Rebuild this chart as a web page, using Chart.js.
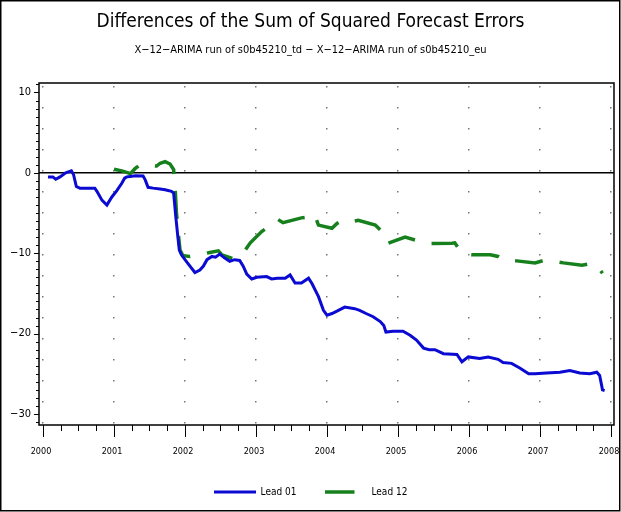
<!DOCTYPE html>
<html>
<head>
<meta charset="utf-8">
<script src="https://cdn.jsdelivr.net/npm/chart.js@4.4.0/dist/chart.umd.min.js"></script>
<style>
  html, body { margin: 0; padding: 0; background: #fff; }
  #wrap { width: 621px; height: 512px; }
</style>
</head>
<body>
<div id="wrap"><canvas id="c" width="621" height="512"></canvas></div>
<script>
// ---- data ----
const titleText = "Differences of the Sum of Squared Forecast Errors";
const subtitleText = "X\u221212\u2212ARIMA run of s0b45210_td \u2212 X\u221212\u2212ARIMA run of s0b45210_eu";
const seriesNames = ["Lead 01", "Lead 12"];
const xTickYears = [2000, 2001, 2002, 2003, 2004, 2005, 2006, 2007, 2008];
const yTickValues = [-30, -20, -10, 0, 10];

const lead01X = [2000.07,2000.14,2000.18,2000.24,2000.32,2000.40,2000.43,2000.47,2000.52,2000.63,2000.73,2000.76,2000.83,2000.90,2000.97,
  2001.04,2001.11,2001.15,2001.18,2001.23,2001.30,2001.41,2001.44,2001.48,2001.55,2001.65,2001.72,2001.81,2001.84,2001.87,2001.90,2001.92,2001.95,
  2002.00,2002.07,2002.14,2002.21,2002.26,2002.31,2002.38,2002.43,2002.49,2002.56,2002.63,2002.70,2002.77,2002.82,2002.87,2002.94,
  2003.01,2003.15,2003.22,2003.30,2003.41,2003.48,2003.55,2003.64,2003.74,2003.79,2003.88,2003.95,
  2004.00,2004.07,2004.14,2004.25,2004.39,2004.46,2004.55,2004.65,2004.75,2004.80,2004.83,2004.93,
  2005.07,2005.17,2005.26,2005.36,2005.44,2005.52,2005.64,2005.83,2005.90,2005.99,
  2006.15,2006.27,2006.41,2006.48,2006.60,2006.72,2006.84,2006.93,
  2007.09,2007.28,2007.42,2007.56,2007.70,2007.80,2007.84,2007.88,2007.91];
const lead01Y = [-0.5,-0.5,-0.8,-0.5,0.0,0.25,-0.2,-1.7,-1.9,-1.9,-1.9,-2.3,-3.4,-4.0,-3.0,
  -2.2,-1.3,-0.66,-0.5,-0.45,-0.37,-0.4,-0.87,-1.8,-1.9,-2.0,-2.1,-2.3,-2.5,-5.4,-8.0,-9.6,-10.2,
  -10.8,-11.6,-12.4,-12.1,-11.6,-10.8,-10.4,-10.5,-10.1,-10.6,-11.0,-10.8,-10.9,-11.6,-12.6,-13.2,
  -13.0,-12.9,-13.2,-13.1,-13.1,-12.7,-13.7,-13.7,-13.1,-13.8,-15.4,-17.1,
  -17.7,-17.5,-17.2,-16.7,-16.9,-17.1,-17.5,-17.9,-18.5,-19.0,-19.8,-19.7,
  -19.7,-20.2,-20.8,-21.8,-22.0,-22.0,-22.5,-22.6,-23.5,-22.9,
  -23.1,-22.9,-23.2,-23.6,-23.7,-24.3,-25.0,-25.0,
  -24.9,-24.8,-24.6,-24.9,-25.0,-24.8,-25.2,-27.0,-27.1];

const lead12X = [2001.00,2001.11,2001.20,2001.23,2001.30,2001.37,2001.60,2001.65,2001.72,2001.79,2001.84,2001.86,2001.88,2001.91,2001.93,2001.97,
  2002.07,2002.21,2002.35,2002.47,2002.52,2002.68,2002.77,2002.85,2002.92,
  2003.08,2003.16,2003.24,2003.31,2003.38,2003.64,2003.72,2003.82,2003.88,
  2004.07,2004.14,2004.23,2004.32,2004.44,2004.68,2004.75,2004.82,2004.85,
  2005.10,2005.26,2005.31,2005.47,2005.76,2005.80,2005.87,2005.94,
  2006.04,2006.30,2006.41,2006.48,2006.67,2006.93,
  2007.05,2007.20,2007.33,2007.59,2007.73,2007.80,2007.88];
const lead12Y = [0.45,0.25,0.0,-0.1,0.55,1.0,0.85,1.2,1.4,1.1,0.4,-1.7,-5.0,-7.9,-9.6,-10.3,
  -10.4,-10.2,-9.9,-9.7,-10.2,-10.7,-10.4,-9.6,-8.7,
  -7.3,-6.8,-6.1,-5.8,-6.2,-5.6,-5.5,-5.1,-6.5,
  -6.9,-6.3,-5.9,-6.1,-5.9,-6.5,-7.1,-8.6,-8.8,
  -8.0,-8.4,-8.55,-8.8,-8.75,-8.7,-9.6,-10.1,
  -10.2,-10.2,-10.4,-10.8,-10.95,-11.2,
  -10.9,-11.0,-11.2,-11.5,-11.25,-11.5,-12.5];

const toPoints = (xs, ys) => xs.map((x, i) => ({ x: x, y: ys[i] }));

const NARROW = '"Liberation Sans Narrow", "Arial Narrow", "DejaVu Sans Condensed", "Liberation Sans", sans-serif';
const BLUE = '#0a0ad2';
const GREEN = '#16801c';
const GREEN_DASH = [28, 17];

// small legend sample glyphs (line samples), width matches legend pointStyleWidth
function legendSample(color, width, dash) {
  const c = document.createElement('canvas');
  c.width = 42; c.height = 4;
  const g = c.getContext('2d');
  g.strokeStyle = color;
  g.lineWidth = width;
  g.setLineDash(dash);
  g.beginPath();
  g.moveTo(0, 2);
  g.lineTo(42, 2);
  g.stroke();
  return c;
}

const framePlugin = {
  id: 'frame',
  beforeDraw(chart) {
    const ctx = chart.ctx;
    ctx.save();
    ctx.fillStyle = '#fff';
    ctx.fillRect(0, 0, chart.width, chart.height);
    ctx.restore();
  },
  beforeDatasetsDraw(chart) {
    const ctx = chart.ctx, a = chart.chartArea, ys = chart.scales.y;
    const y0 = ys.getPixelForValue(0);
    ctx.save();
    ctx.strokeStyle = '#000';
    ctx.lineWidth = 1.5;
    ctx.beginPath();
    ctx.moveTo(a.left, y0);
    ctx.lineTo(a.right, y0);
    ctx.stroke();
    ctx.restore();
  },
  afterDraw(chart) {
    const ctx = chart.ctx, a = chart.chartArea;
    const xs = chart.scales.x, ys = chart.scales.y;
    ctx.save();
    ctx.strokeStyle = '#000';
    ctx.lineWidth = 1.5;
    ctx.strokeRect(a.left, a.top, a.right - a.left, a.bottom - a.top);
    ctx.lineWidth = 1;
    ctx.beginPath();
    for (let v = Math.ceil(ys.min); v <= Math.floor(ys.max); v++) {
      const y = Math.round(ys.getPixelForValue(v)) + 0.5;
      const len = (v % 10 === 0) ? 5 : 3;
      ctx.moveTo(a.left - len, y);
      ctx.lineTo(a.left, y);
    }
    const first = xTickYears[0], last = xTickYears[xTickYears.length - 1];
    for (let q = 0; q <= (last - first) * 4; q++) {
      const v = first + q / 4;
      const x = Math.round(xs.getPixelForValue(v)) + 0.5;
      const len = (q % 4 === 0) ? 12 : 6;
      ctx.moveTo(x, a.bottom);
      ctx.lineTo(x, a.bottom + len);
    }
    ctx.stroke();
    ctx.lineWidth = 1.5;
    ctx.strokeRect(0.75, 0.75, chart.width - 2, chart.height - 2);
    ctx.restore();
  }
};

new Chart(document.getElementById('c'), {
  type: 'line',
  data: {
    datasets: [
      {
        label: seriesNames[0],
        data: toPoints(lead01X, lead01Y),
        borderColor: BLUE,
        backgroundColor: BLUE,
        borderWidth: 3,
        pointRadius: 0,
        pointStyle: legendSample(BLUE, 3, []),
        tension: 0
      },
      {
        label: seriesNames[1],
        data: toPoints(lead12X, lead12Y),
        borderColor: GREEN,
        backgroundColor: GREEN,
        borderWidth: 3.5,
        borderDash: GREEN_DASH,
        pointRadius: 0,
        pointStyle: legendSample(GREEN, 3.5, [30, 12]),
        tension: 0
      }
    ]
  },
  options: {
    responsive: false,
    animation: false,
    devicePixelRatio: 1,
    layout: { padding: { top: 0, left: 7, right: 7, bottom: 5 } },
    plugins: {
      title: {
        display: true,
        text: titleText,
        color: '#000',
        font: { family: NARROW, size: 19, weight: 'normal' },
        padding: { top: 10.5, bottom: 10.1 }
      },
      subtitle: {
        display: true,
        text: subtitleText,
        color: '#000',
        font: { family: NARROW, size: 11, weight: 'normal' },
        padding: { top: 0, bottom: 26.4 }
      },
      legend: {
        position: 'bottom',
        labels: {
          usePointStyle: true,
          pointStyleWidth: 42,
          padding: 28,
          color: '#000',
          font: { family: NARROW, size: 10 }
        }
      },
      tooltip: { enabled: false }
    },
    scales: {
      x: {
        type: 'linear',
        min: 1999.944,
        max: 2008.042,
        afterBuildTicks(scale) { scale.ticks = xTickYears.map(v => ({ value: v })); },
        afterFit(scale) { scale.height = 34; scale.paddingLeft = 0; scale.paddingRight = 0; },
        ticks: {
          padding: 21,
          labelOffset: -2,
          color: '#000',
          maxRotation: 0,
          autoSkip: false,
          font: { family: NARROW, size: 9 },
          callback: v => String(v)
        },
        grid: { display: true, drawTicks: false, color: '#777', lineWidth: 1.5 },
        border: { display: false, dash: [1.5, 19.5], dashOffset: 18 }
      },
      y: {
        type: 'linear',
        min: -31.37,
        max: 11.18,
        afterBuildTicks(scale) { scale.ticks = yTickValues.map(v => ({ value: v })); },
        afterFit(scale) { scale.width = 32; },
        ticks: {
          padding: 8,
          color: '#000',
          font: { family: NARROW, size: 11 },
          callback: v => (v < 0 ? '\u2212' + Math.abs(v) : String(v))
        },
        grid: { display: false, drawTicks: false },
        border: { display: false }
      }
    }
  },
  plugins: [framePlugin]
});
</script>
</body>
</html>
